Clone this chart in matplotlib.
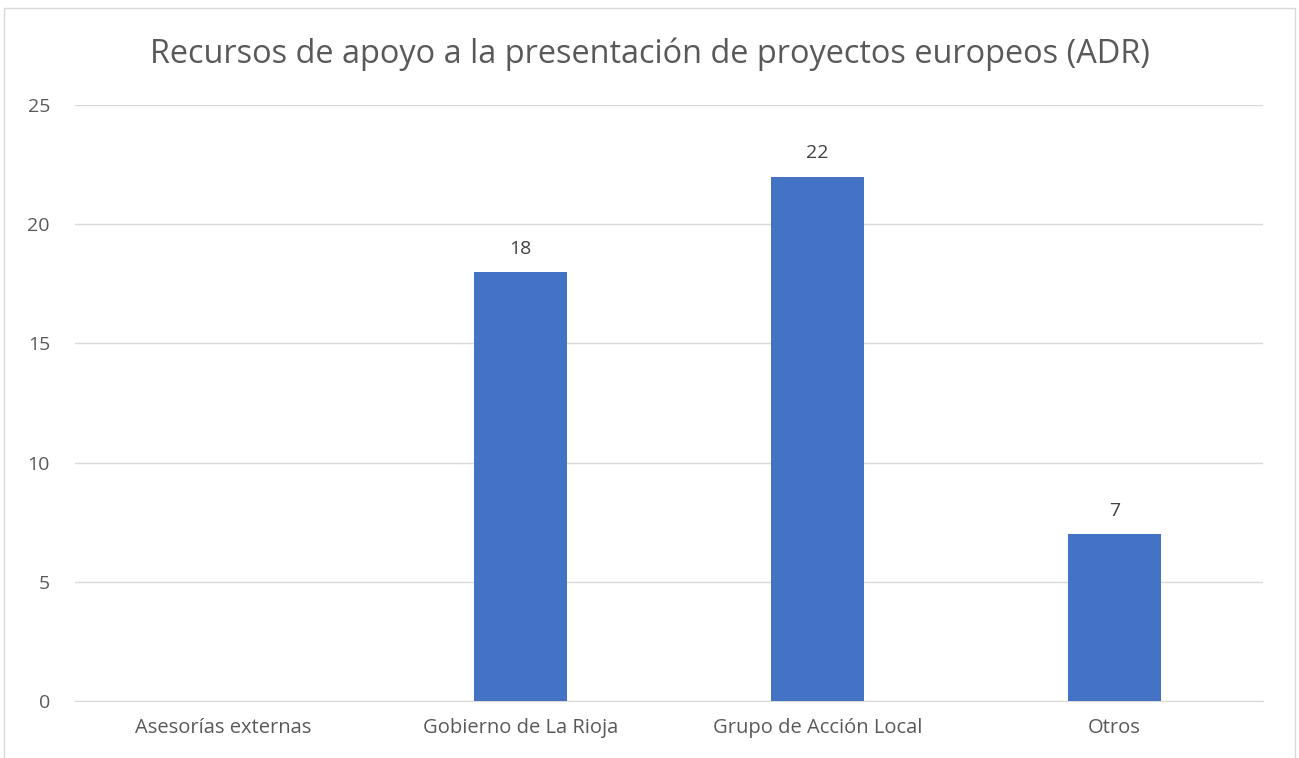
import matplotlib.pyplot as plt
import numpy as np

categorias = ['Asesorías externas', 'Gobierno de La Rioja', 'Grupo de Acción Local', 'Otros']
valores = [0, 18, 22, 7]
etiquetas = ['', '18', '22', '7']
yticks = [0, 5, 10, 15, 20, 25]

plt.rcParams['font.family'] = ['Open Sans', 'DejaVu Sans']

fig = plt.figure(figsize=(12.99, 7.58), dpi=100)
ax = fig.add_axes([75 / 1299, 1 - 701 / 758, 1188 / 1299, 596 / 758])

x = np.arange(len(categorias))
bars = ax.bar(x, valores, width=0.315, color='#4472C4', zorder=3)
for xi, v, lab in zip(x, valores, etiquetas):
    if lab:
        ax.text(xi, v + 0.6, lab, ha='center', va='bottom', fontsize=14, color='#404040')

ax.set_xlim(-0.5, 3.5)
ax.set_ylim(0, 25)
ax.set_yticks(yticks)
ax.set_xticks(x)
ax.set_xticklabels(categorias, fontsize=14.5, color='#595959')
ax.tick_params(axis='y', labelsize=14, labelcolor='#595959', length=0, pad=18)
ax.tick_params(axis='x', length=0, pad=12)
ax.grid(axis='y', color='#D9D9D9', linewidth=1, zorder=0)
for s in ['top', 'right', 'left']:
    ax.spines[s].set_visible(False)
ax.spines['bottom'].set_color('#D9D9D9')

fig.text(650 / 1299, 1 - 54 / 758, 'Recursos de apoyo a la presentación de proyectos europeos (ADR)',
         ha='center', va='center', fontsize=23.4, color='#595959')

fig.patches.append(plt.Rectangle((0.003, -0.01), 0.994, 1.0, transform=fig.transFigure,
                                 fill=False, edgecolor='#D9D9D9', linewidth=1))

fig.savefig('out.png', dpi=100)
